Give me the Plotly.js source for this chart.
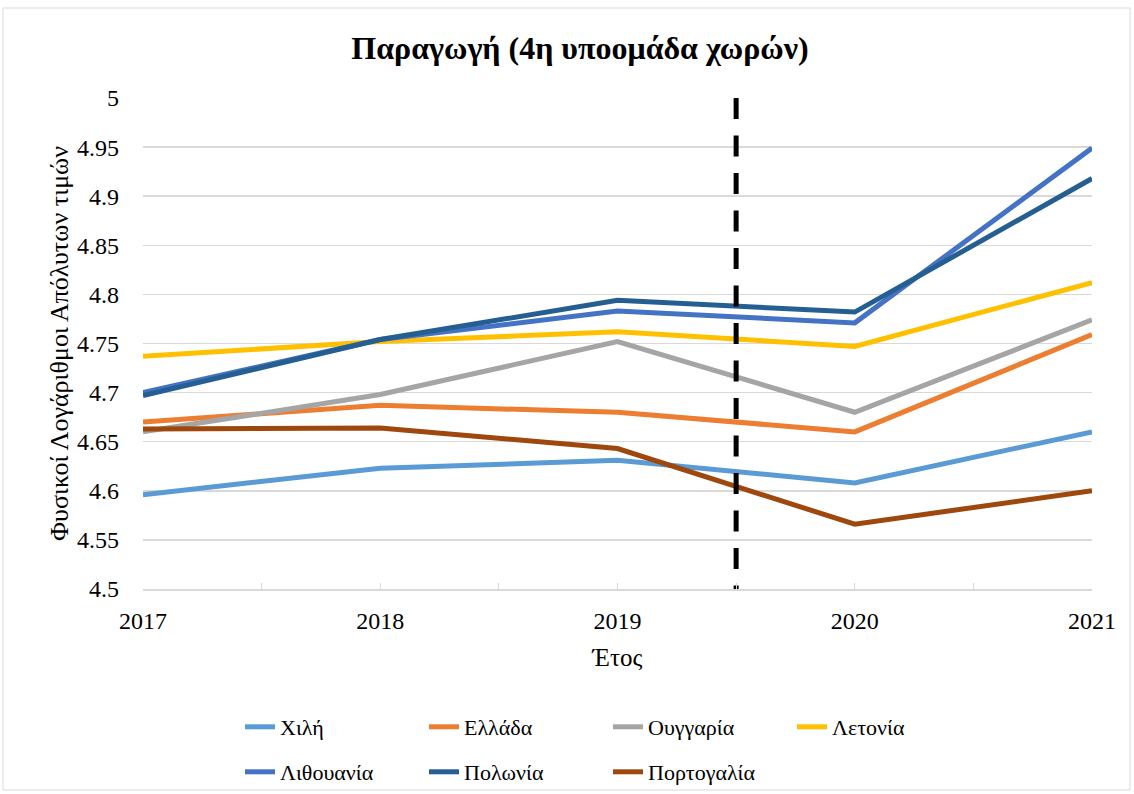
<!DOCTYPE html>
<html>
<head>
<meta charset="utf-8">
<script src="https://cdn.plot.ly/plotly-3.0.1.min.js"></script>
<style>html,body{margin:0;padding:0;background:#fff;}#chart{width:1134px;height:794px;}</style>
</head>
<body>
<div id="chart"></div>
<script>
const years = [2017, 2018, 2019, 2020, 2021];
const chile = [4.596, 4.623, 4.631, 4.608, 4.660];
const greece = [4.670, 4.687, 4.680, 4.660, 4.759];
const hungary = [4.660, 4.698, 4.752, 4.680, 4.774];
const latvia = [4.737, 4.752, 4.762, 4.747, 4.812];
const lithuania = [4.700, 4.754, 4.783, 4.771, 4.949];
const poland = [4.697, 4.754, 4.794, 4.782, 4.918];
const portugal = [4.663, 4.664, 4.643, 4.566, 4.600];
const seriesNames = ['Χιλή', 'Ελλάδα', 'Ουγγαρία', 'Λετονία', 'Λιθουανία', 'Πολωνία', 'Πορτογαλία'];
const seriesValues = [chile, greece, hungary, latvia, lithuania, poland, portugal];
const seriesColors = ['#5B9BD5', '#ED7D31', '#A5A5A5', '#FFC000', '#4472C4', '#255E91', '#9E480E'];
const breakYear = [2019.5, 2019.5];
const breakRange = [5, 4.5];

const font = 'Liberation Serif, Times New Roman, serif';
const traces = seriesNames.map((n, i) => ({
  x: years, y: seriesValues[i], name: n, type: 'scatter', mode: 'lines',
  legend: i < 4 ? 'legend' : 'legend2',
  line: {color: seriesColors[i], width: 5}
}));
traces.push({
  x: breakYear, y: breakRange, type: 'scatter', mode: 'lines', showlegend: false, hoverinfo: 'skip',
  line: {color: '#000', width: 5, dash: '21px,16.5px'}
});

const P = (px) => (px - 143) / 949;
const Q = (py) => (589 - py) / 491;
const legendCommon = {
  orientation: 'h', xanchor: 'left', yanchor: 'top',
  entrywidth: 139, entrywidthmode: 'pixels', font: {family: font, size: 22}, tracegroupgap: 0,
  bgcolor: 'rgba(0,0,0,0)'
};

const layout = {
  width: 1134, height: 794,
  margin: {l: 143, r: 42, t: 98, b: 205, autoexpand: false},
  paper_bgcolor: '#fff', plot_bgcolor: '#fff',
  font: {family: font, color: '#000', size: 24},
  title: {text: '<b>Παραγωγή (4η υποομάδα χωρών)</b>', font: {family: font, size: 32, color: '#000'},
          x: 580 / 1134, xanchor: 'center', xref: 'container', y: 1 - 48/794, yanchor: 'middle'},
  xaxis: {
    range: [2017, 2021], dtick: 1, tick0: 2017, showgrid: false, zeroline: false,
    showline: true, linecolor: '#d9d9d9', linewidth: 1.5, automargin: false,
    ticks: 'inside', ticklen: 6, tickcolor: '#d9d9d9',
    minor: {dtick: 0.5, ticks: 'inside', ticklen: 6, tickcolor: '#d9d9d9'},
    tickfont: {family: font, size: 24}, ticklabelstandoff: 10,
    title: {text: 'Έτος', font: {family: font, size: 25}, standoff: 15}
  },
  yaxis: {
    range: [4.5, 5], dtick: 0.05, tick0: 4.5, showgrid: true, gridcolor: '#d9d9d9', gridwidth: 1.5,
    zeroline: false, showline: false, ticks: '', automargin: false,
    tickfont: {family: font, size: 24}, ticklabelstandoff: 23,
    title: {text: 'Φυσικοί Λογάριθμοι Απόλυτων τιμών', font: {family: font, size: 26}, standoff: 0}
  },
  legend: Object.assign({}, legendCommon, {x: P(240), y: Q(706)}),
  legend2: Object.assign({}, legendCommon, {x: P(240), y: Q(751)}),
  shapes: [{
    type: 'rect', xref: 'paper', yref: 'paper',
    x0: P(3), x1: P(1130), y0: Q(790), y1: Q(8),
    line: {color: '#d9d9d9', width: 1}, fillcolor: 'rgba(0,0,0,0)', layer: 'below'
  }],
  showlegend: true
};
Plotly.newPlot('chart', traces, layout, {displayModeBar: false, staticPlot: true});
</script>
</body>
</html>
